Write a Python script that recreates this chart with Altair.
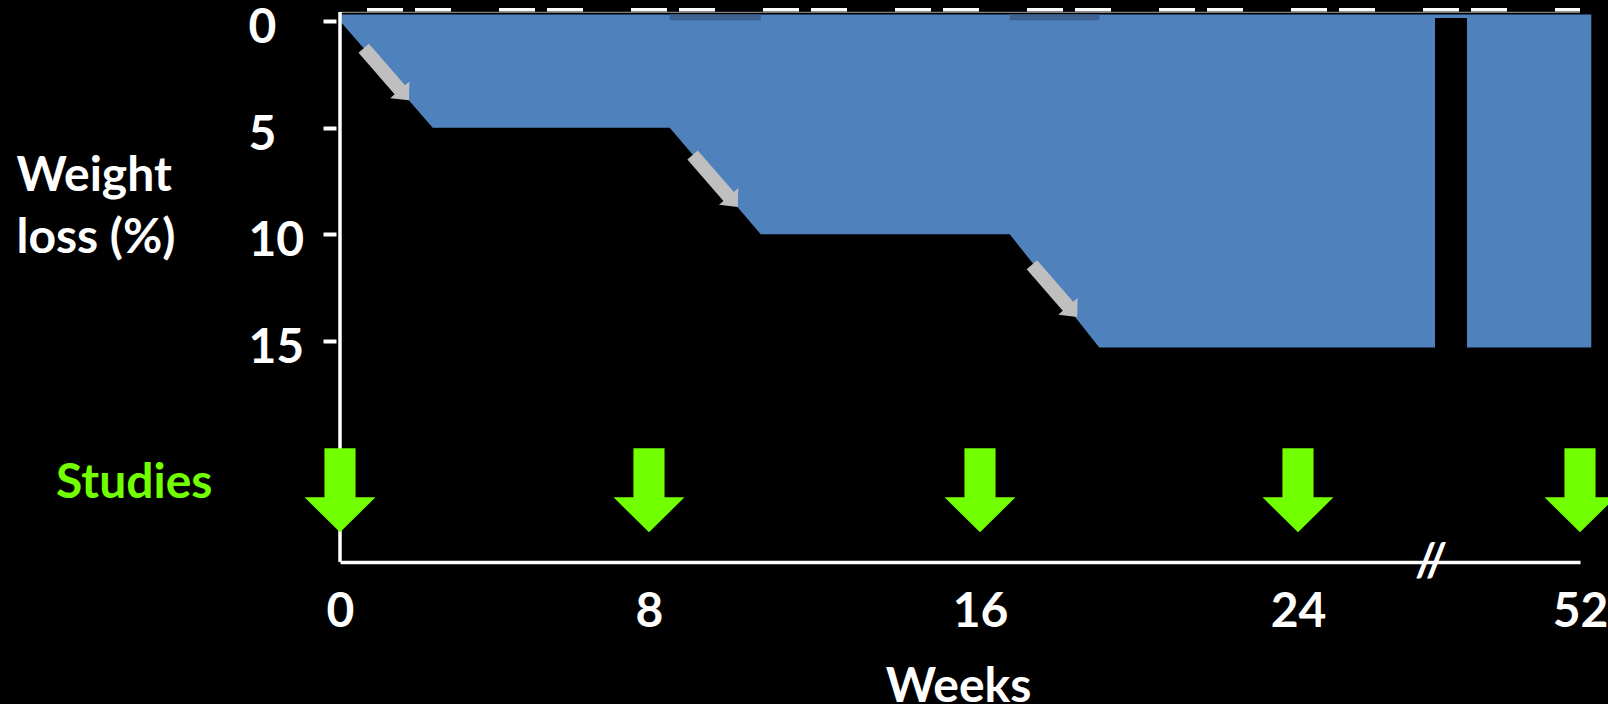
import altair as alt
import pandas as pd

# Weight-loss trajectory: percent of starting weight lost, by week
loss_weeks = [0, 2.4, 8.5, 10.7, 16.75, 19.0, 52.3]
loss_pct = [0, 5, 5, 10, 10, 15.3, 15.3]

# Weeks at which studies are performed
study_weeks = [0, 8, 16, 24, 52]

# Axis tick values
week_ticks = [0, 8, 16, 24, 52]
pct_ticks = [0, 5, 10, 15]

# Compressed (broken) stretch of the week axis
break_start, break_end = 27.5, 49

# ---- layout / scale settings ----
FONT = "Lato"
FS = 48
BLUE = "#4F81BD"
BLUE_DARK = "#3E6291"
GREEN = "#72FF00"
GREY_ARROW = "#BFBFBF"

X_DOMAIN = [0, 8, 16, 24, break_start, break_end, 52]
X_RANGE = [0, 309, 640, 958, 1095, 1127, 1240]
Y_DOMAIN = [-0.42, 25.36]
TOP_EDGE = -0.3      # upper edge of the shaded band
GREY_LINE = -0.4
DASH_LINE = -0.52
STUDY_ROW = 22.0     # vertical position of the study markers

DOWN_ARROW = ("M-0.37,-1L0.37,-1L0.37,0.167L0.845,0.167L0,1"
              "L-0.845,0.167L-0.37,0.167Z")
RIGHT_ARROW = ("M-1,-0.2L0.594,-0.2L0.594,-0.37L1,0L0.594,0.37"
               "L0.594,0.2L-1,0.2Z")

loss_df = pd.DataFrame({"week": loss_weeks, "pct": loss_pct})

# descent phases: (start index, end index) in the trajectory
descents = [(0, 1), (2, 3), (4, 5)]
arrow_df = pd.DataFrame({
    "week": [(loss_weeks[a] + loss_weeks[b]) / 2 for a, b in descents],
    "pct": [(loss_pct[a] + loss_pct[b]) / 2 for a, b in descents],
})
strip_df = pd.DataFrame({
    "week": [loss_weeks[a] for a, b in descents[1:]],
    "week2": [loss_weeks[b] for a, b in descents[1:]],
})
study_df = pd.DataFrame({"week": study_weeks})
one = pd.DataFrame({"label": ["Studies"], "sym": ["//"]})

x_scale = alt.Scale(domain=X_DOMAIN, range=X_RANGE, nice=False, zero=False)
y_scale = alt.Scale(domain=Y_DOMAIN, reverse=True, nice=False, zero=False)

x_axis = alt.Axis(
    values=week_ticks, title="Weeks", grid=False,
    ticks=False, tickSize=0, domainColor="white", domainWidth=3.5,
    labelFont=FONT, labelFontWeight="bold", labelFontSize=FS,
    labelColor="white", labelBaseline="alphabetic", labelPadding=64,
    labelFlush=False, labelOverlap=False,
    titleFont=FONT, titleFontWeight="bold", titleFontSize=FS,
    titleColor="white", titleX=618, titleY=139,
    titleAlign="center", titleBaseline="alphabetic",
)
y_axis = alt.Axis(
    values=pct_ticks, title=["Weight", "loss (%)"], grid=False,
    domain=False, offset=4, tickColor="white", tickWidth=4, tickSize=13,
    labelFont=FONT, labelFontWeight="bold", labelFontSize=FS,
    labelColor="white", labelAlign="left", labelBaseline="alphabetic",
    labelPadding=75, labelOffset=21.5, labelFlush=False, labelOverlap=False,
    titleFont=FONT, titleFontWeight="bold", titleFontSize=FS,
    titleColor="white", titleAngle=0, titleAlign="left",
    titleBaseline="alphabetic", titleX=-320, titleY=178, titleLineHeight=62,
)

band = alt.Chart(loss_df).mark_area(color=BLUE, opacity=1).encode(
    x=alt.X("week:Q", scale=x_scale, axis=x_axis),
    y=alt.Y("pct:Q", scale=y_scale, axis=y_axis),
    y2=alt.datum(TOP_EDGE),
)

strips = alt.Chart(strip_df).mark_rect(color=BLUE_DARK).encode(
    x="week:Q", x2="week2:Q",
    y=alt.datum(TOP_EDGE), y2=alt.datum(-0.03),
)

axis_break = alt.Chart(one).mark_rect(color="black").encode(
    x=alt.datum(break_start), x2=alt.datum(break_end),
    y=alt.datum(-0.14), y2=alt.datum(15.7),
)

grey_line = alt.Chart(one).mark_rule(color="#808080", strokeWidth=1.2).encode(
    x=alt.datum(0), x2=alt.datum(52), y=alt.datum(GREY_LINE),
)

dash_line = alt.Chart(one).mark_rule(
    color="white", strokeWidth=3.5,
    strokeDash=[36, 12, 36, 48], strokeDashOffset=105,
).encode(x=alt.datum(0), x2=alt.datum(52), y=alt.datum(DASH_LINE))

y_line = alt.Chart(one).mark_rule(color="white", strokeWidth=3.5).encode(
    x=alt.datum(0),
)

descent_arrows = alt.Chart(arrow_df).mark_point(
    shape=RIGHT_ARROW, size=69 * 69, angle=49, filled=True,
    color=GREY_ARROW, opacity=1, strokeWidth=0,
).encode(x="week:Q", y="pct:Q")

study_arrows = alt.Chart(study_df).mark_point(
    shape=DOWN_ARROW, size=84 * 84, filled=True,
    color=GREEN, opacity=1, strokeWidth=0,
).encode(x="week:Q", y=alt.datum(STUDY_ROW))

studies_label = alt.Chart(one).mark_text(
    font=FONT, fontWeight="bold", fontSize=FS, color=GREEN,
    align="left", baseline="alphabetic", dx=-284, dy=7.5,
).encode(x=alt.datum(0), y=alt.datum(STUDY_ROW), text="label:N")

break_mark = alt.Chart(one).mark_text(
    font=FONT, fontWeight="bold", fontSize=46, color="white",
    align="center", baseline="alphabetic", dx=-4, dy=14,
).encode(x=alt.datum(break_start), y=alt.datum(Y_DOMAIN[1]), text="sym:N")

chart = alt.layer(
    band, strips, axis_break, grey_line, dash_line, y_line,
    descent_arrows, study_arrows, studies_label, break_mark,
).properties(
    width=1240, height=550,
    padding={"left": 340, "top": 12, "right": 28, "bottom": 142},
    autosize=alt.AutoSizeParams(type="none"),
).configure(background="black").configure_view(strokeWidth=0)

chart.save("out.html", embed_options={"renderer": "svg", "actions": False})
